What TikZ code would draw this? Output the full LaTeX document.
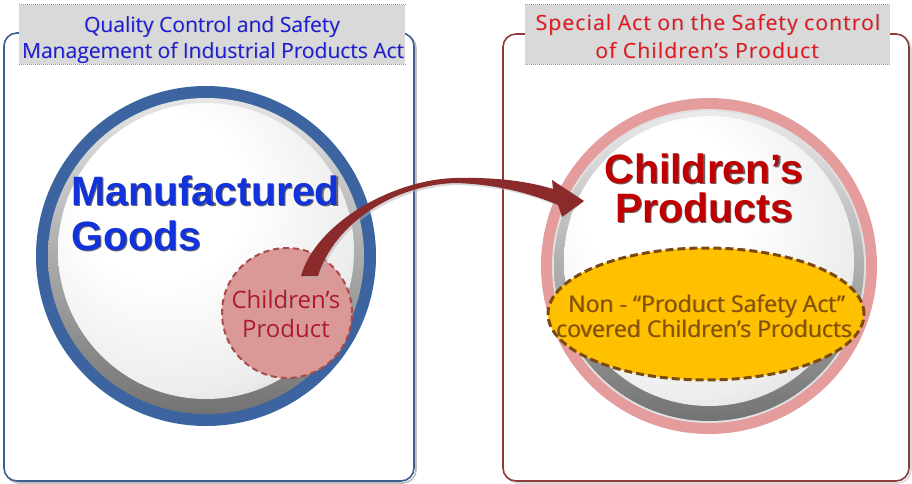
\documentclass[tikz,border=0pt]{standalone}
\usepackage{fontspec}
\setmainfont{Open Sans}
\newfontfamily\bigfont{Liberation Sans}
\newfontfamily\widefont{Open Sans}[LetterSpace=5.5]
\usetikzlibrary{shapes.geometric}
\definecolor{ringblue}{HTML}{3B64A0}
\definecolor{ringpink}{HTML}{E59C9C}
\definecolor{boxblue}{HTML}{3D5F8F}
\definecolor{boxred}{HTML}{8E3A3A}
\definecolor{titleblue}{HTML}{1A1AD8}
\definecolor{titlered}{HTML}{E8141C}
\definecolor{mgblue}{HTML}{1232DC}
\definecolor{cpred}{HTML}{C00000}
\definecolor{cptext}{HTML}{B4162A}
\definecolor{smallfill}{HTML}{DA9896}
\definecolor{smallborder}{HTML}{A94B4B}
\definecolor{yel}{HTML}{FFC000}
\definecolor{yelborder}{HTML}{7A4A10}
\definecolor{yeltext}{HTML}{80500A}
\definecolor{arrowred}{HTML}{8B2A2A}
\definecolor{stripgray}{HTML}{D9D9D9}
\pgfdeclareradialshading{spherefill}{\pgfpoint{-10bp}{12bp}}{color(0bp)=(white); color(14bp)=(white); color(30bp)=(black!7); color(42bp)=(black!20); color(52bp)=(black!38); color(64bp)=(black!50)}
% text with a soft offset shadow, in one box
\newcommand{\shd}[4]{\makebox[0pt][l]{\hspace*{#1}\raisebox{-#1}{\textcolor{#2}{#4}}}\textcolor{#3}{#4}}
\tikzset{
  bigtxt/.style={font=\bigfont\bfseries\fontsize{41}{41}\selectfont, inner sep=0},
  titletxt/.style={font=\fontsize{21}{21}\selectfont, inner sep=0, anchor=base},
  widetxt/.style={font=\widefont\fontsize{21}{21}\selectfont, inner sep=0, anchor=base},
  midtxt/.style={font=\fontsize{24}{24}\selectfont, inner sep=0, anchor=base},
  yeltxt/.style={font=\fontsize{23}{23}\selectfont, inner sep=0, anchor=base},
  bigbox/.style={rounded corners=13pt, line width=1.6pt, inner sep=0},
  strip/.style={fill=stripgray, inner sep=0, minimum height=59pt},
  stripline/.style={densely dotted, line width=1pt, black!40},
  disc/.style={circle, inner sep=0},
}
\begin{document}
\begin{tikzpicture}[x=1pt,y=-1pt]
\useasboundingbox[fill=white] (0,0) rectangle (912,483);
% boxes
\node[bigbox, draw=black!25, minimum width=410pt, minimum height=448pt] (boxLs) at (211,259) {};
\node[bigbox, draw=boxblue, fill=white, minimum width=410pt, minimum height=448pt] (boxL) at (209,257) {};
\node[bigbox, draw=black!15, minimum width=406pt, minimum height=447pt] (boxRs) at (708,259.5) {};
\node[bigbox, draw=boxred, fill=white, minimum width=406pt, minimum height=447pt] (boxR) at (706,257.5) {};
% title strips
\node[strip, minimum width=386pt] (stripL) at (212,34.5) {};
\draw[stripline] (stripL.north west) -- (stripL.north east);
\draw[stripline] (stripL.south west) -- (stripL.south east);
\node[strip, minimum width=365pt] (stripR) at (707.5,34.5) {};
\draw[stripline] (stripR.north west) -- (stripR.north east);
\draw[stripline] (stripR.south west) -- (stripR.south east);
\node[titletxt] (tL1) at (212,32) {\shd{0.8pt}{black!35}{titleblue}{Quality Control and Safety}};
\node[titletxt] (tL2) at (213,58) {\shd{0.8pt}{black!35}{titleblue}{Management of Industrial Products Act}};
\node[widetxt] (tR1) at (708,30) {\shd{0.8pt}{black!35}{titlered}{Special Act on the Safety control}};
\node[widetxt] (tR2) at (707,58) {\shd{0.8pt}{black!35}{titlered}{of Children’s Product}};
% left sphere
\node[disc, fill=ringblue, minimum size=340pt] (ringL) at (206,256) {};
\node[disc, shading=axis, top color=black!10, bottom color=black!55, minimum size=316pt] (bezL) at (206,256) {};
\node[disc, shading=spherefill, minimum size=296pt] (sphL) at (206,251) {};
% right sphere
\node[disc, fill=ringpink, minimum size=336pt] (ringR) at (709,266) {};
\node[disc, fill=black!12, minimum size=314pt] (lineR) at (709,266) {};
\node[disc, shading=axis, top color=black!8, bottom color=black!55, minimum size=310pt] (bezR) at (709,266) {};
\node[disc, shading=spherefill, minimum size=290pt] (sphR) at (709,261) {};
% big texts
\node[bigtxt, anchor=base west] (mg1) at (71,205) {\shd{1.2pt}{black!60}{mgblue}{Manufactured}};
\node[bigtxt, anchor=base west] (mg2) at (71,250) {\shd{1.2pt}{black!60}{mgblue}{Goods}};
\node[bigtxt, anchor=base] (cp1) at (704,183) {\shd{1.2pt}{black!60}{cpred}{Children’s}};
\node[bigtxt, anchor=base] (cp2) at (704,222) {\shd{1.2pt}{black!60}{cpred}{Products}};
% small dashed circle
\node[disc, fill=smallfill, draw=smallborder, line width=2pt, dash pattern=on 6pt off 4pt, minimum size=130pt] (small) at (287,313) {};
\node[midtxt] (sm1) at (286,308) {\shd{0.8pt}{black!30}{cptext}{Children’s}};
\node[midtxt] (sm2) at (286,337) {\shd{0.8pt}{black!30}{cptext}{Product}};
% yellow ellipse
\node[ellipse, fill=yel, draw=yelborder, line width=3pt, dash pattern=on 8pt off 4pt, inner sep=0, minimum width=316pt, minimum height=132pt] (ell) at (706,314) {};
\node[yeltxt] (el1) at (706.5,312) {\shd{0.8pt}{yelborder!60!yel}{yeltext}{Non - “Product Safety Act”}};
\node[yeltxt] (el2) at (704,337) {\shd{0.8pt}{yelborder!60!yel}{yeltext}{covered Children’s Products}};
% arrow
\coordinate (arrTail) at (309,276);
\coordinate (arrTip) at (584,201);
\fill[black!30, opacity=0.5, shift={(2pt,-2pt)}]
  (301,276) .. controls (315,225) and (390,180) .. (455,178)
  .. controls (500,177) and (530,182) .. (553,189)
  -- (552,180) -- (arrTip) -- (562,217) -- (558,205)
  .. controls (530,193) and (495,184) .. (455,183)
  .. controls (395,185) and (335,222) .. (318,276) -- cycle;
\fill[arrowred]
  (301,276) .. controls (315,225) and (390,180) .. (455,178)
  .. controls (500,177) and (530,182) .. (553,189)
  -- (552,180) -- (arrTip) -- (562,217) -- (558,205)
  .. controls (530,193) and (495,184) .. (455,183)
  .. controls (395,185) and (335,222) .. (318,276) -- cycle;
\end{tikzpicture}
\end{document}
